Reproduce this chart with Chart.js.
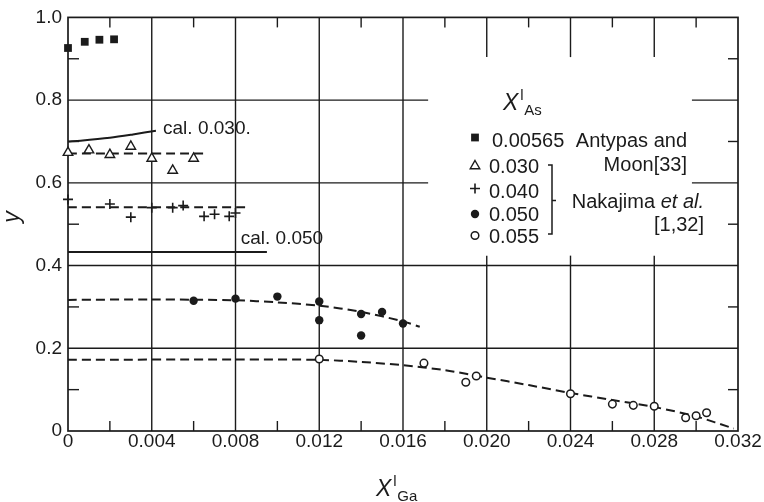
<!DOCTYPE html>
<html>
<head>
<meta charset="utf-8">
<script src="https://cdn.jsdelivr.net/npm/chart.js@4.4.0/dist/chart.umd.min.js"></script>
<style>
  html, body { margin: 0; padding: 0; background: #fff; }
</style>
</head>
<body>
<canvas id="chart" width="764" height="502"></canvas>
<script>
// Antypas and Moon [33], X_As = 0.00565
const as00565X = [0, 0.0008, 0.0015, 0.0022];
const as00565Y = [0.926, 0.941, 0.946, 0.947];

// Nakajima et al. [1,32]
const as030X = [0, 0.001, 0.002, 0.003, 0.004, 0.005, 0.006];
const as030Y = [0.673, 0.679, 0.668, 0.688, 0.659, 0.630, 0.659];
const as040X = [0, 0.002, 0.003, 0.004, 0.005, 0.0055, 0.0065, 0.007, 0.0077, 0.008];
const as040Y = [0.560, 0.549, 0.517, 0.540, 0.540, 0.545, 0.519, 0.524, 0.519, 0.527];
const as050X = [0.006, 0.008, 0.010, 0.012, 0.012, 0.014, 0.014, 0.015, 0.016];
const as050Y = [0.315, 0.320, 0.325, 0.313, 0.268, 0.283, 0.231, 0.288, 0.260];
const as055X = [0.012, 0.017, 0.019, 0.0195, 0.024, 0.026, 0.027, 0.028, 0.0295, 0.030, 0.0305];
const as055Y = [0.174, 0.164, 0.118, 0.133, 0.090, 0.065, 0.062, 0.060, 0.032, 0.037, 0.044];

// dashed fits through each set
const fit030X = [0, 0.0066];
const fit030Y = [0.671, 0.671];
const fit040X = [0, 0.0086];
const fit040Y = [0.541, 0.541];
const fit050X = [0, 0.004, 0.008, 0.010, 0.012, 0.014, 0.016, 0.0168];
const fit050Y = [0.317, 0.318, 0.316, 0.311, 0.303, 0.288, 0.265, 0.252];
const fit055X = [0, 0.008, 0.012, 0.014, 0.016, 0.018, 0.020, 0.022, 0.024, 0.026, 0.028, 0.030, 0.0318];
const fit055Y = [0.172, 0.173, 0.172, 0.167, 0.159, 0.147, 0.129, 0.111, 0.092, 0.075, 0.058, 0.035, 0.006];

// calculated curves
const cal030X = [0, 0.0006, 0.002, 0.0031, 0.0042];
const cal030Y = [0.700, 0.702, 0.709, 0.717, 0.726];
const cal050X = [0, 0.0095];
const cal050Y = [0.433, 0.433];

// axes
const xTickValues = [0, 0.004, 0.008, 0.012, 0.016, 0.020, 0.024, 0.028, 0.032];
const xTickLabels = ['0', '0.004', '0.008', '0.012', '0.016', '0.020', '0.024', '0.028', '0.032'];
const yTickValues = [0, 0.2, 0.4, 0.6, 0.8, 1.0];
const yTickLabels = ['0', '0.2', '0.4', '0.6', '0.8', '1.0'];

// key
const keyValues = ['0.00565', '0.030', '0.040', '0.050', '0.055'];

const FONT = '"Liberation Sans", Arial, Helvetica, sans-serif';
const INK = '#1b1b1b';

const pts = (xs, ys) => xs.map((x, i) => ({ x: x, y: ys[i] }));

const markerStyles = [
  { pointStyle: 'rect', radius: 5.5, borderWidth: 0, fill: INK },
  { pointStyle: 'triangle', radius: 5.5, borderWidth: 1.4, fill: '#fff' },
  { pointStyle: 'cross', radius: 5, borderWidth: 1.6, fill: INK },
  { pointStyle: 'circle', radius: 4.2, borderWidth: 0, fill: INK },
  { pointStyle: 'circle', radius: 3.8, borderWidth: 1.5, fill: '#fff' }
];

function markers(data, st) {
  return {
    data: data,
    showLine: false,
    clip: false,
    pointStyle: st.pointStyle,
    pointRadius: st.radius,
    pointBorderWidth: st.borderWidth,
    pointBorderColor: INK,
    pointBackgroundColor: st.fill
  };
}

function curve(data, dashed) {
  return {
    data: data,
    showLine: true,
    pointRadius: 0,
    borderColor: INK,
    borderWidth: 2,
    borderDash: dashed ? [9, 5] : [],
    tension: 0.3,
    fill: false
  };
}

const datasets = [
  markers(pts(as00565X, as00565Y), markerStyles[0]),
  markers(pts(as030X, as030Y), markerStyles[1]),
  markers(pts(as040X, as040Y), markerStyles[2]),
  markers(pts(as050X, as050Y), markerStyles[3]),
  markers(pts(as055X, as055Y), markerStyles[4]),
  curve(pts(fit030X, fit030Y), true),
  curve(pts(fit040X, fit040Y), true),
  curve(pts(fit050X, fit050Y), true),
  curve(pts(fit055X, fit055Y), true),
  curve(pts(cal030X, cal030Y), false),
  curve(pts(cal050X, cal050Y), false)
];

// grid of the original plate: partial lines, inner minor ticks, closed frame
const paperGrid = {
  id: 'paperGrid',
  beforeDatasetsDraw(chart) {
    const { ctx, chartArea: a, scales: { x, y } } = chart;
    const px = v => x.getPixelForValue(v);
    const py = v => y.getPixelForValue(v);
    ctx.save();
    ctx.strokeStyle = INK;
    ctx.lineWidth = 1.4;
    const line = (x0, y0, x1, y1) => {
      ctx.beginPath(); ctx.moveTo(x0, y0); ctx.lineTo(x1, y1); ctx.stroke();
    };
    // horizontal rules
    [0.8, 0.6].forEach(v => {
      line(px(0), py(v), px(0.0172), py(v));
      line(px(0.0298), py(v), px(0.032), py(v));
    });
    [0.4, 0.2].forEach(v => line(a.left, py(v), a.right, py(v)));
    // vertical rules
    [0.004, 0.008, 0.012, 0.016].forEach(v => line(px(v), a.top, px(v), a.bottom));
    [0.020, 0.024, 0.028].forEach(v => {
      line(px(v), a.top, px(v), py(0.904));
      line(px(v), py(0.424), px(v), a.bottom);
    });
    // minor ticks
    for (let v = 0.002; v < 0.032; v += 0.004) {
      line(px(v), a.bottom, px(v), a.bottom - 10);
      line(px(v), a.top, px(v), a.top + 10);
    }
    [0.1, 0.3, 0.5, 0.7, 0.9].forEach(v => {
      line(a.left, py(v), a.left + 11, py(v));
      line(a.right, py(v), a.right - 10, py(v));
    });
    ctx.lineWidth = 1.7;
    ctx.strokeRect(a.left, a.top, a.width, a.height);
    ctx.restore();
  }
};

function drawMarker(ctx, st, x, y) {
  ctx.save();
  ctx.fillStyle = st.fill;
  ctx.strokeStyle = INK;
  ctx.lineWidth = st.borderWidth || 1;
  Chart.helpers.drawPoint(ctx, {
    pointStyle: st.pointStyle, radius: st.radius, rotation: 0, borderWidth: st.borderWidth
  }, x, y);
  ctx.restore();
}

// X with superscript l and a subscript
function drawXSym(ctx, left, base, sub) {
  ctx.font = 'italic 23px ' + FONT;
  ctx.fillText('X', left, base);
  const w = ctx.measureText('X').width;
  ctx.font = '15px ' + FONT;
  ctx.fillText('l', left + w + 2, base - 10);
  ctx.fillText(sub, left + w + 6, base + 5);
}

const annotations = {
  id: 'annotations',
  afterDraw(chart) {
    const { ctx, scales: { x, y } } = chart;
    ctx.save();
    ctx.fillStyle = INK;
    ctx.textBaseline = 'alphabetic';
    ctx.textAlign = 'left';

    // labels of the calculated curves
    ctx.font = '19px ' + FONT;
    ctx.fillText('cal. 0.030.', x.getPixelForValue(0.00454), y.getPixelForValue(0.719));
    ctx.fillText('cal. 0.050', x.getPixelForValue(0.00825), y.getPixelForValue(0.452));

    // key
    drawXSym(ctx, 503, 110, 'As');
    const rowY = [137.5, 164.5, 188.5, 214, 235.5];
    const baseY = [146.5, 172.5, 197.5, 221, 242.5];
    keyValues.forEach((t, i) => {
      drawMarker(ctx, markerStyles[i], 475, i === 1 ? rowY[i] + 1.5 : rowY[i]);
      ctx.fillStyle = INK;
      ctx.font = '20px ' + FONT;
      ctx.fillText(t, i === 0 ? 492 : 489, baseY[i]);
    });

    // bracket grouping the Nakajima sets
    ctx.strokeStyle = INK;
    ctx.lineWidth = 1.5;
    ctx.beginPath();
    ctx.moveTo(548, 165); ctx.lineTo(552, 165); ctx.lineTo(552, 234); ctx.lineTo(548, 234);
    ctx.moveTo(552, 200.5); ctx.lineTo(556, 200.5);
    ctx.stroke();

    // sources
    ctx.textAlign = 'right';
    ctx.font = '20px ' + FONT;
    ctx.fillText('Antypas and', 687, 147);
    ctx.fillText('Moon[33]', 687, 171);
    ctx.font = 'italic 20px ' + FONT;
    const etal = 'et al.';
    ctx.fillText(etal, 704, 207.5);
    const ew = ctx.measureText(etal).width;
    ctx.font = '20px ' + FONT;
    ctx.fillText('Nakajima ', 704 - ew, 207.5);
    ctx.fillText('[1,32]', 704, 230.5);

    // axis titles
    ctx.textAlign = 'left';
    drawXSym(ctx, 376, 496, 'Ga');
    ctx.translate(19, 217);
    ctx.rotate(-Math.PI / 2);
    ctx.textAlign = 'center';
    ctx.font = 'italic 23px ' + FONT;
    ctx.fillText('y', 0, 0);
    ctx.restore();
  }
};

Chart.defaults.font.family = FONT;
Chart.defaults.color = INK;

new Chart(document.getElementById('chart').getContext('2d'), {
  type: 'scatter',
  data: { datasets: datasets },
  options: {
    responsive: false,
    animation: false,
    events: [],
    layout: { padding: { top: 12, right: 26, left: 0, bottom: 0 } },
    plugins: {
      legend: { display: false },
      tooltip: { enabled: false }
    },
    scales: {
      x: {
        type: 'linear',
        min: 0,
        max: 0.032,
        grid: { display: false, drawTicks: false },
        border: { display: false },
        afterBuildTicks: s => { s.ticks = xTickValues.map(v => ({ value: v })); },
        afterFit: s => { s.height = 71; },
        ticks: {
          maxRotation: 0,
          autoSkip: false,
          padding: 1,
          font: { size: 19, lineHeight: 1 },
          callback: (v, i) => xTickLabels[i]
        }
      },
      y: {
        type: 'linear',
        min: 0,
        max: 1.0,
        grid: { display: false, drawTicks: false },
        border: { display: false },
        afterBuildTicks: s => { s.ticks = yTickValues.map(v => ({ value: v })); },
        afterFit: s => { s.width = 68; },
        ticks: {
          padding: 6,
          autoSkip: false,
          font: { size: 19 },
          callback: (v, i) => yTickLabels[i]
        }
      }
    }
  },
  plugins: [paperGrid, annotations]
});
</script>
</body>
</html>
